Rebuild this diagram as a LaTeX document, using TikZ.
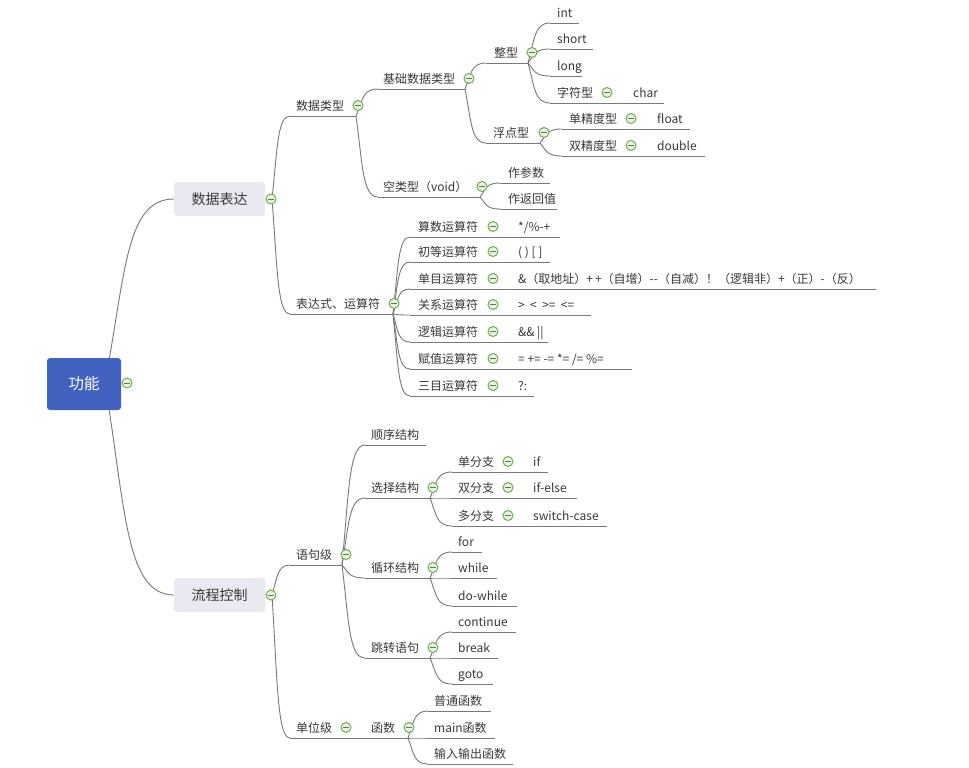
\documentclass[tikz,border=0pt]{standalone}
\usepackage{fontspec}
\setmainfont{Noto Sans CJK SC}
\usetikzlibrary{calc}
\definecolor{txt}{HTML}{383838}
\definecolor{ln}{HTML}{787878}
\definecolor{rootblue}{HTML}{4262BF}
\definecolor{boxgray}{HTML}{E9E9F1}
\definecolor{icg}{HTML}{6DB33F}
\tikzset{
  conn/.style={draw=ln, line width=0.9pt},
  lbl/.style={anchor=base west, inner sep=0pt, text=txt, font=\fontsize{12}{14}\selectfont},
  icon/.style={circle, draw=icg, line width=1pt, fill=black!7, minimum size=10pt, inner sep=0pt,
    path picture={\draw[icg!75!black, line width=1pt] ([xshift=-2.8pt]path picture bounding box.center) -- ([xshift=2.8pt]path picture bounding box.center);}},
  rootbox/.style={fill=rootblue, rounded corners=3pt, minimum width=74pt, minimum height=52pt, inner sep=0pt, text=white, font=\fontsize{15.5}{17}\selectfont},
  lonebox/.style={fill=boxgray, rounded corners=3pt, minimum width=91pt, minimum height=34pt, inner sep=0pt, text=txt, font=\fontsize{14}{16}\selectfont},
}
\newcommand\curv[2]{\draw[conn] let \p1=(#1), \p2=(#2) in (\p1) .. controls ({\x1+0.3*(\x2-\x1)},{\y1+0.6*(\y2-\y1)}) and ({\x1+0.3*(\x2-\x1)},\y2) .. (\p2);}
% \topic{name}{text x}{underline y}{underline start}{underline end}{text}
\newcommand\topic[6]{%
  \coordinate (#1-s) at (#4,#3);
  \coordinate (#1-e) at (#5,#3);
  \node[lbl] (#1) at (#2,{#3-5.5}) {#6};
  \draw[conn] (#1-s) -- (#1-e);}
\newcommand\icn[3]{\node[icon] (#1) at (#2,{#3-10.5}) {};}
\begin{document}
\begin{tikzpicture}[x=1pt,y=-1pt]
\fill[white] (0,0) rectangle (969,768);
\useasboundingbox (0,0) rectangle (969,768);

% root connectors
\coordinate (root-j) at (105,383);
\coordinate (sjbd-w) at (174,199);
\coordinate (lckz-w) at (174,595);
\curv{root-j}{sjbd-w}
\curv{root-j}{lckz-w}
\node[rootbox] (root) at (84,384) {功能};
\node[lonebox] (sjbd) at (219.5,199) {数据表达};
\node[lonebox] (lckz) at (219.5,595) {流程控制};
\coordinate (sjbd-e) at (272,199);
\coordinate (lckz-e) at (272,595);

% ===== 数据表达 =====
\topic{sjlx}{296}{116}{290}{356}{数据类型}
\curv{sjbd-e}{sjlx-s}
\topic{jcsj}{383}{89}{378}{465}{基础数据类型}
\curv{sjlx-e}{jcsj-s}
\topic{zx}{494}{63}{486}{528}{整型}
\curv{jcsj-e}{zx-s}
\topic{tint}{557}{23}{550}{579}{int}
\topic{tshort}{557}{49}{550}{593}{short}
\topic{tlong}{557}{76}{550}{582}{long}
\topic{zfx}{557}{103}{550}{620}{字符型}
\topic{tchar}{633}{103}{620}{664}{char}
\curv{zx-e}{tint-s}
\curv{zx-e}{tshort-s}
\curv{zx-e}{tlong-s}
\curv{zx-e}{zfx-s}
\topic{fdx}{493}{143}{486}{540}{浮点型}
\curv{jcsj-e}{fdx-s}
\topic{djd}{569}{129}{562}{645}{单精度型}
\topic{tfloat}{657}{129}{645}{690}{float}
\topic{sjd}{569}{156}{562}{645}{双精度型}
\topic{tdouble}{657}{156}{645}{705}{double}
\curv{fdx-e}{djd-s}
\curv{fdx-e}{sjd-s}
\topic{klx}{383}{197}{378}{480}{空类型（void）}
\curv{sjlx-e}{klx-s}
\topic{zcs}{508}{183}{500}{550}{作参数}
\topic{zfh}{508}{209}{500}{557}{作返回值}
\curv{klx-e}{zcs-s}
\curv{klx-e}{zfh-s}

\topic{bds}{296}{314}{290}{393}{表达式、运算符}
\curv{sjbd-e}{bds-s}
\topic{op1}{418}{237}{410}{505}{算数运算符}
\topic{v1}{518}{237}{505}{560}{*/\%-+}
\topic{op2}{418}{262}{410}{505}{初等运算符}
\topic{v2}{518}{262}{505}{550}{( ) [ ]}
\topic{op3}{418}{289}{410}{505}{单目运算符}
\topic{v3}{518}{289}{505}{876}{\&（取地址）+\,+（自增）-{}-（自减）！（逻辑非）+（正）-（反）}
\topic{op4}{418}{315}{410}{505}{关系运算符}
\topic{v4}{518}{315}{505}{591}{> \ < \ >= \ <=}
\topic{op5}{418}{342}{410}{505}{逻辑运算符}
\topic{v5}{518}{342}{505}{548}{\&\& ||}
\topic{op6}{418}{369}{410}{505}{赋值运算符}
\topic{v6}{518}{369}{505}{632}{= += -= *= /= \%=}
\topic{op7}{418}{396}{410}{505}{三目运算符}
\topic{v7}{518}{396}{505}{534}{?:}
\foreach \k in {1,...,7}{\curv{bds-e}{op\k-s}}

% ===== 流程控制 =====
\topic{yjj}{296}{565}{290}{342}{语句级}
\curv{lckz-e}{yjj-s}
\topic{sxjg}{371}{445}{365}{426}{顺序结构}
\topic{xzjg}{371}{498}{365}{430}{选择结构}
\topic{xhjg}{371}{578}{365}{430}{循环结构}
\topic{tzyj}{371}{658}{365}{430}{跳转语句}
\curv{yjj-e}{sxjg-s}
\curv{yjj-e}{xzjg-s}
\curv{yjj-e}{xhjg-s}
\curv{yjj-e}{tzyj-s}
\topic{dfz}{458}{472}{452}{522}{单分支}
\topic{tif}{533}{472}{522}{548}{if}
\topic{sfz}{458}{498}{452}{522}{双分支}
\topic{tifelse}{533}{498}{522}{577}{if-else}
\topic{mfz}{458}{526}{452}{522}{多分支}
\topic{tswitch}{533}{526}{522}{607}{switch-case}
\curv{xzjg-e}{dfz-s}
\curv{xzjg-e}{sfz-s}
\curv{xzjg-e}{mfz-s}
\topic{tfor}{458}{552}{452}{482}{for}
\topic{twhile}{458}{578}{452}{497}{while}
\topic{tdowhile}{458}{606}{452}{517}{do-while}
\curv{xhjg-e}{tfor-s}
\curv{xhjg-e}{twhile-s}
\curv{xhjg-e}{tdowhile-s}
\topic{tcont}{458}{632}{452}{516}{continue}
\topic{tbreak}{458}{658}{452}{498}{break}
\topic{tgoto}{458}{684}{452}{493}{goto}
\curv{tzyj-e}{tcont-s}
\curv{tzyj-e}{tbreak-s}
\curv{tzyj-e}{tgoto-s}
\topic{dwj}{296}{738}{290}{360}{单位级}
\curv{lckz-e}{dwj-s}
\topic{hs}{371}{738}{360}{408}{函数}
\topic{pths}{434}{711}{428}{491}{普通函数}
\topic{mainhs}{434}{738}{428}{495}{main函数}
\topic{srsc}{434}{764}{428}{513}{输入输出函数}
\curv{hs-e}{pths-s}
\curv{hs-e}{mainhs-s}
\curv{hs-e}{srsc-s}

% ===== collapse icons =====
\node[icon] (ic-root) at (127,383) {};
\node[icon] (ic-sjbd) at (271,199) {};
\node[icon] (ic-lckz) at (271,595) {};
\icn{ic-sjlx}{358}{116}
\icn{ic-jcsj}{469}{89}
\icn{ic-zx}{532}{63}
\icn{ic-zfx}{607}{103}
\icn{ic-fdx}{544}{143}
\icn{ic-djd}{631}{129}
\icn{ic-sjd}{631}{156}
\icn{ic-klx}{482}{197}
\icn{ic-bds}{394}{314}
\icn{ic-op1}{493}{237}
\icn{ic-op2}{493}{262}
\icn{ic-op3}{493}{289}
\icn{ic-op4}{493}{315}
\icn{ic-op5}{493}{342}
\icn{ic-op6}{493}{369}
\icn{ic-op7}{493}{396}
\icn{ic-yjj}{346}{565}
\icn{ic-xzjg}{433}{498}
\icn{ic-xhjg}{433}{578}
\icn{ic-tzyj}{433}{658}
\icn{ic-dfz}{508}{472}
\icn{ic-sfz}{508}{498}
\icn{ic-mfz}{508}{526}
\icn{ic-dwj}{346}{738}
\icn{ic-hs}{409}{738}
\end{tikzpicture}
\end{document}
